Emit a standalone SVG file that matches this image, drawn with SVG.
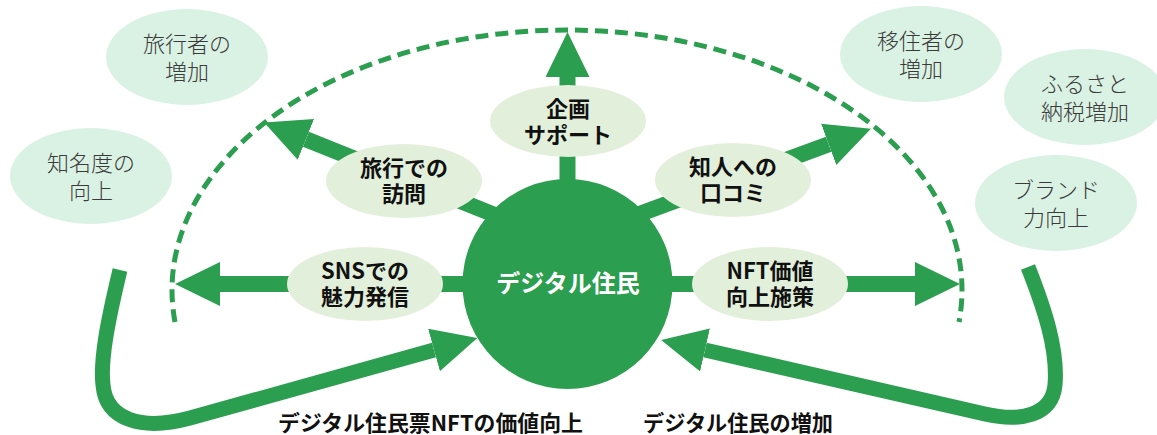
<svg xmlns="http://www.w3.org/2000/svg" width="1157" height="435" viewBox="0 0 1157 435">
<defs>
<style>
.bg{fill:#ffffff}
.soft{fill:#daf2e4}
.key{fill:#e2efda}
.hub{fill:#2b9e4f}
.shaft{stroke:#2b9e4f;stroke-width:16;fill:none;stroke-linecap:butt}
.loop{stroke:#2b9e4f;stroke-width:15;fill:none;stroke-linecap:butt}
.dash{stroke:#2b9e4f;stroke-width:5;fill:none;stroke-dasharray:13 7}
.t-soft{font-family:"Noto Sans CJK JP","Noto Sans",sans-serif;font-size:22px;font-weight:300;fill:#3a3a3a;text-anchor:middle}
.t-key{font-family:"Noto Sans CJK JP","Noto Sans",sans-serif;font-size:22px;font-weight:700;fill:#111111;text-anchor:middle}
.t-hub{font-family:"Noto Sans CJK JP","Noto Sans",sans-serif;font-size:24px;font-weight:700;fill:#ffffff;text-anchor:middle}
.t-lab{font-family:"Noto Sans CJK JP","Noto Sans",sans-serif;font-size:21.5px;font-weight:700;fill:#111111}
</style>
<marker id="head" markerUnits="userSpaceOnUse" markerWidth="45" markerHeight="44" viewBox="0 0 45 44" refX="0" refY="22" orient="auto">
<path d="M0,0 L45,22 L0,44 Z" fill="#2b9e4f"/>
</marker>
</defs>
<rect class="bg" x="0" y="0" width="1157" height="435"/>

<g id="outcomes">
<g id="n-tourists"><ellipse class="soft" cx="187" cy="57" rx="81" ry="48"/><text class="t-soft" x="187" y="52">旅行者の<tspan x="187" dy="28">増加</tspan></text></g>
<g id="n-awareness"><ellipse class="soft" cx="91" cy="176" rx="81" ry="48"/><text class="t-soft" x="91" y="171">知名度の<tspan x="91" dy="28">向上</tspan></text></g>
<g id="n-migrants"><ellipse class="soft" cx="921" cy="54" rx="81" ry="48"/><text class="t-soft" x="921" y="49">移住者の<tspan x="921" dy="28">増加</tspan></text></g>
<g id="n-furusato"><ellipse class="soft" cx="1085" cy="97" rx="81" ry="48"/><text class="t-soft" x="1085" y="92">ふるさと<tspan x="1085" dy="28">納税増加</tspan></text></g>
<g id="n-brand"><ellipse class="soft" cx="1056" cy="203" rx="81" ry="48"/><text class="t-soft" x="1056" y="198">ブランド<tspan x="1056" dy="28">力向上</tspan></text></g>
</g>

<g id="connectors">
<path class="dash" d="M175,322 A395,260 0 1 1 959,322"/>
<line class="shaft" x1="567.5" y1="200" x2="567.5" y2="77" marker-end="url(#head)"/>
<line class="shaft" x1="480" y1="284" x2="220" y2="284" marker-end="url(#head)"/>
<line class="shaft" x1="650" y1="284" x2="915" y2="284" marker-end="url(#head)"/>
<line class="shaft" x1="520" y1="225" x2="305.9" y2="139.3" marker-end="url(#head)"/>
<line class="shaft" x1="615" y1="223" x2="828.7" y2="144.3" marker-end="url(#head)"/>
<path class="loop" d="M120,270 C108,320 100,360 103,385 C106,420 142,431 190,418 L434,350" marker-end="url(#head)"/>
<path class="loop" d="M1028,267 C1045,310 1058,350 1055,385 C1052,416 1020,422 985,414 L705,350" marker-end="url(#head)"/>
</g>

<g id="n-plan"><ellipse class="key" cx="568" cy="121" rx="78" ry="36"/><text class="t-key" x="568" y="117">企画<tspan x="568" dy="26">サポート</tspan></text></g>
<g id="n-visit"><ellipse class="key" cx="404" cy="181" rx="78" ry="37"/><text class="t-key" x="404" y="176">旅行での<tspan x="404" dy="26">訪問</tspan></text></g>
<g id="n-word"><ellipse class="key" cx="733" cy="180" rx="78" ry="37"/><text class="t-key" x="733" y="175">知人への<tspan x="733" dy="26">口コミ</tspan></text></g>
<g id="n-sns"><ellipse class="key" cx="365" cy="284" rx="78" ry="37"/><text class="t-key" x="365" y="279">SNSでの<tspan x="365" dy="26">魅力発信</tspan></text></g>
<g id="n-nft"><ellipse class="key" cx="770" cy="284" rx="78" ry="37"/><text class="t-key" x="770" y="279">NFT価値<tspan x="770" dy="26">向上施策</tspan></text></g>
<g id="n-hub"><circle class="hub" cx="567.5" cy="284" r="105"/><text class="t-hub" x="568" y="292">デジタル住民</text></g>

<g id="labels">
<text class="t-lab" x="278" y="431" textLength="305" lengthAdjust="spacingAndGlyphs">デジタル住民票NFTの価値向上</text>
<text class="t-lab" x="643" y="431" textLength="190" lengthAdjust="spacingAndGlyphs">デジタル住民の増加</text>
</g>
</svg>
